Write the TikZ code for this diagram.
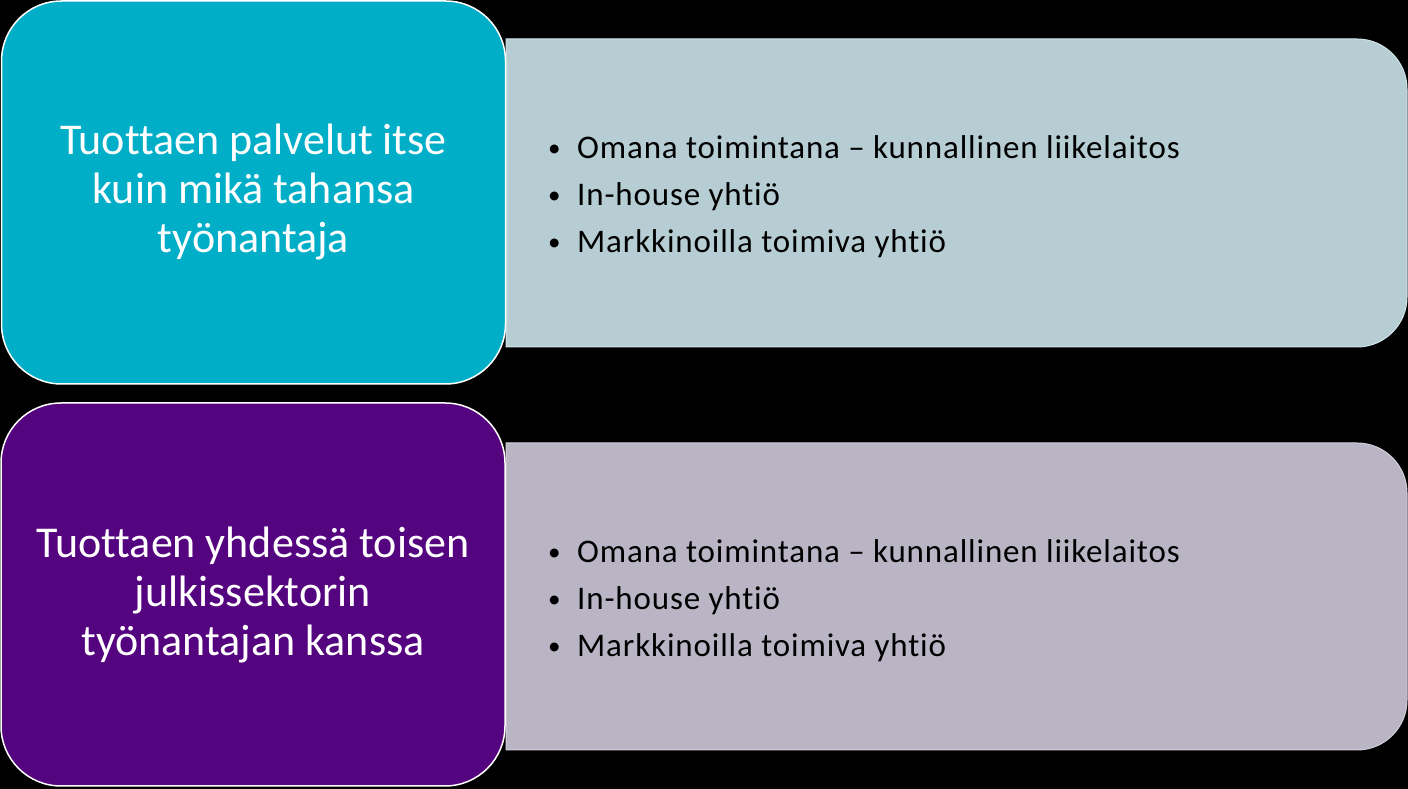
\documentclass[tikz,border=0pt]{standalone}
\usepackage{fontspec}
\setmainfont{Carlito}[Ligatures={TeX,NoCommon}]
\newfontfamily\listfont{Carlito}[Ligatures={TeX,NoCommon},LetterSpace=2.6]
\usepackage{tikz}
\usetikzlibrary{positioning}
\definecolor{tealhead}{HTML}{00AEC8}
\definecolor{tealbody}{HTML}{B6CDD3}
\definecolor{tealedge}{HTML}{CFE3E8}
\definecolor{purplehead}{HTML}{55047F}
\definecolor{purplebody}{HTML}{B9B5C4}
\definecolor{purpleedge}{HTML}{D2CEDA}
\tikzset{
	headbox/.style={rectangle, rounded corners=60pt, draw=white, line width=1.5pt, text=white, align=center, minimum width=504pt, minimum height=383pt, inner sep=0pt, font=\fontsize{44}{49}\selectfont},
	itemtext/.style={anchor=west, align=left, inner sep=0pt, font=\listfont\fontsize{33}{47}\selectfont},
}
\newcommand{\itm}{\makebox[30pt][l]{\hspace{1pt}{\fontsize{25}{25}\selectfont\raisebox{1.8pt}{\textbullet}}}}
\begin{document}
\begin{tikzpicture}[x=1pt,y=1pt]
	\fill[black] (0,0) rectangle (1408,789);
	\useasboundingbox (0,0) rectangle (1408,789);
	% right-hand panels
	\filldraw[fill=tealbody, draw=tealedge, line width=1pt] (506,442) -- (506,750) -- (1357,750) arc[start angle=90,end angle=0,radius=50] -- (1407,492) arc[start angle=0,end angle=-90,radius=50] -- cycle;
	\filldraw[fill=purplebody, draw=purpleedge, line width=1pt] (506,39) -- (506,346) -- (1357,346) arc[start angle=90,end angle=0,radius=50] -- (1407,89) arc[start angle=0,end angle=-90,radius=50] -- cycle;
	% left-hand headings
	\node[headbox, fill=tealhead] (head1) at (253.5,596.5) {Tuottaen palvelut itse\\kuin mikä tahansa\\työnantaja};
	\node[headbox, fill=purplehead] (head2) at (253,194.5) {Tuottaen yhdessä toisen\\julkissektorin\\työnantajan kanssa};
	% lists
	\node[itemtext] (list1) at (547,592) {\itm Omana toimintana – kunnallinen liikelaitos\\\itm In-house yhtiö\\\itm Markkinoilla toimiva yhtiö};
	\node[itemtext] (list2) at (547,188) {\itm Omana toimintana – kunnallinen liikelaitos\\\itm In-house yhtiö\\\itm Markkinoilla toimiva yhtiö};
\end{tikzpicture}
\end{document}
